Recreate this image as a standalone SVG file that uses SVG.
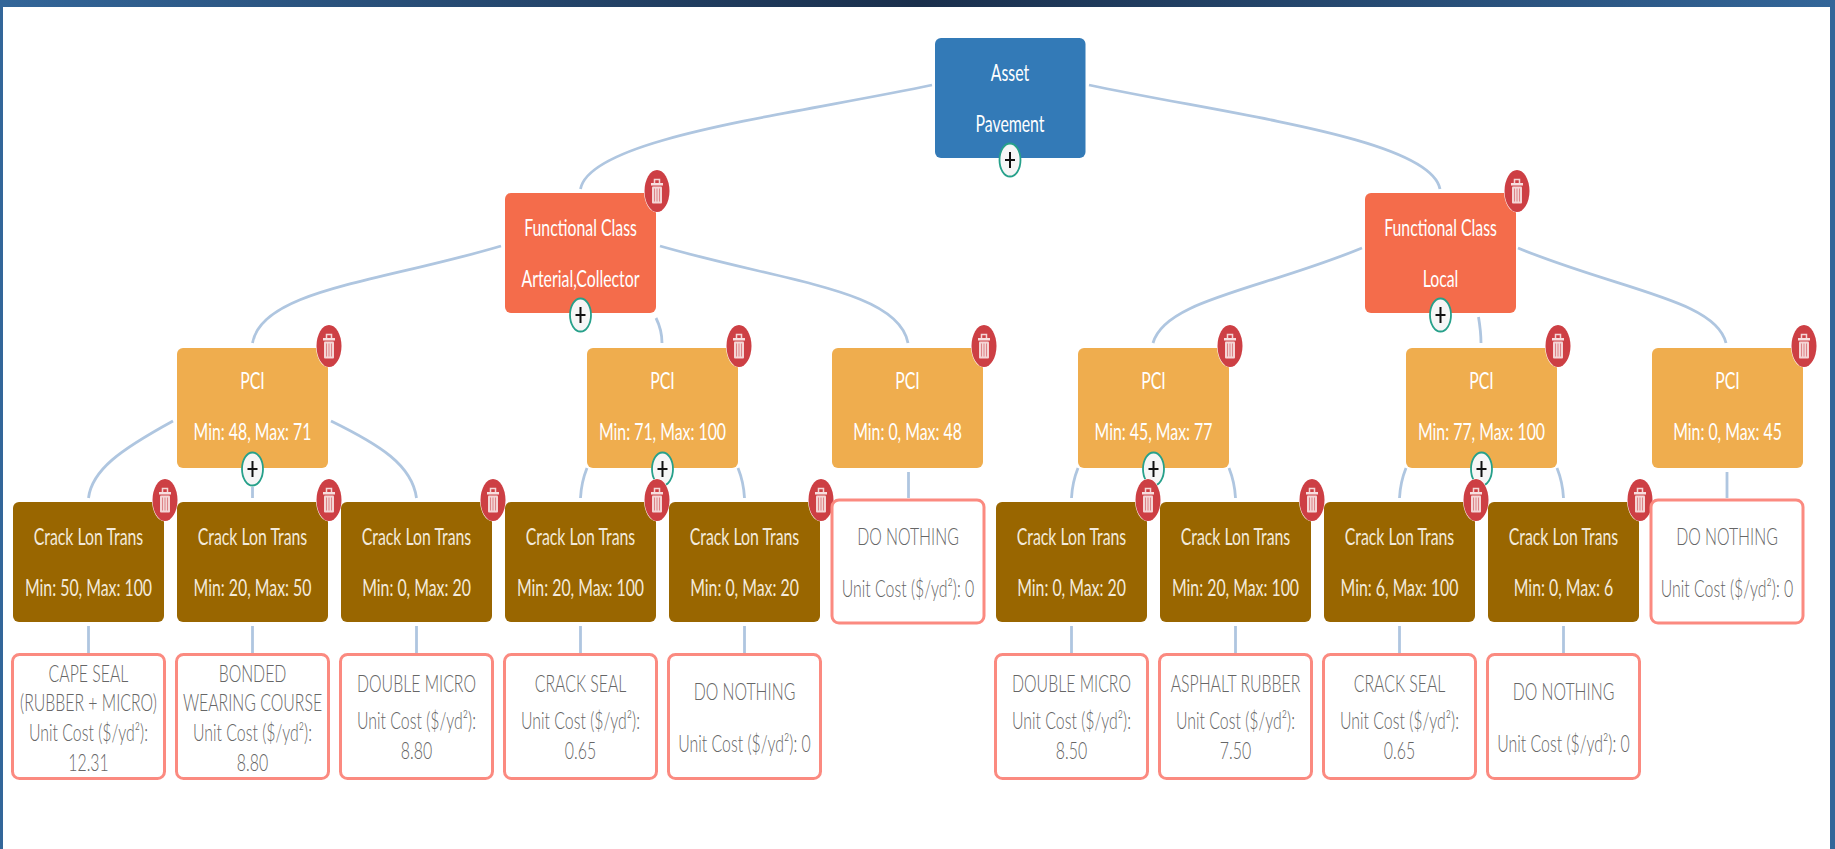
<svg xmlns="http://www.w3.org/2000/svg" width="1835" height="849" viewBox="0 0 1835 849">
<style>
text{font-family:"Lato","Open Sans","Liberation Sans",sans-serif;font-size:24px;font-weight:300;text-anchor:middle}
.w{fill:#fff;font-weight:400}
.c{fill:#f3eadb;font-weight:400}
.g{fill:#666}
.asset{fill:#337ab7}
.fc{fill:#f46c4b}
.pci{fill:#efad4e}
.crack{fill:#996600}
.leaf{fill:#fff;stroke:#fb8a80;stroke-width:3}
#connectors path{fill:none;stroke:#afc6e0;stroke-width:2.8}
</style>
<defs>
<linearGradient id="bar" x1="0" x2="1" y1="0" y2="0">
<stop offset="0" stop-color="#336699"/>
<stop offset="0.5" stop-color="#1a2f4c"/>
<stop offset="1" stop-color="#336699"/>
</linearGradient>
<g id="del">
<ellipse rx="13" ry="21.5" fill="#fff"/>
<ellipse rx="12.5" ry="21" fill="#cd3f44"/>
<path d="M-2.5-8V-11.5H2.5V-8" fill="none" stroke="#f4d6d6" stroke-width="1.5"/>
<rect x="-6" y="-8" width="12" height="2.5" fill="#f7dfdf"/>
<rect x="-5" y="-4.5" width="10" height="17" rx="1" fill="#f4d6d6"/>
<path d="M-2.500-2.500V10.500M0-2.500V10.500M2.500-2.500V10.500" stroke="#dd8488" stroke-width="1"/>
</g>
<g id="plus">
<ellipse rx="10.500" ry="16.500" fill="#f6f6f6" stroke="#26a08a" stroke-width="1.8"/>
<path d="M-5 0H5M0-8V8" stroke="#111" stroke-width="2" fill="none"/>
</g>
</defs>
<rect width="1835" height="849" fill="#fff"/>
<rect id="frame-left" x="0" y="0" width="3" height="849" fill="#336699"/>
<rect id="frame-right" x="1830" y="0" width="5" height="849" fill="#336699"/>
<rect id="frame-top" x="0" y="0" width="1835" height="7" fill="url(#bar)"/>

<g id="connectors">
<path d="M932 85C790 115 590 138 580.500 189"/>
<path d="M1089 85C1230 115 1430 138 1440 189"/>
<path d="M501 246C380 282 262 290 252.500 343"/>
<path d="M656 318C660 326 662 335 662 343"/>
<path d="M660 246C785 282 898 290 908 343"/>
<path d="M1362 248C1260 290 1165 300 1153 343"/>
<path d="M1478.500 317C1480 326 1481 335 1481 343"/>
<path d="M1518 248C1620 290 1716 300 1726 343"/>
<path d="M173 421C120 450 92 470 88.500 498"/>
<path d="M252.500 487V498"/>
<path d="M331 421C380 445 412 465 416.500 498"/>
<path d="M587 468C583 478 581 488 580.500 498"/>
<path d="M738 468C742 478 744 488 744.500 498"/>
<path d="M908.500 472V498"/>
<path d="M1078 468C1074 478 1072 488 1071.500 498"/>
<path d="M1229 468C1233 478 1235 488 1235.500 498"/>
<path d="M1406 468C1402 478 1400 488 1399.500 498"/>
<path d="M1557 468C1561 478 1563 488 1563.500 498"/>
<path d="M1727 472V498"/>
<path d="M88.500 626V653"/>
<path d="M252.500 626V653"/>
<path d="M416.500 626V653"/>
<path d="M580.500 626V653"/>
<path d="M744.500 626V653"/>
<path d="M1071.500 626V653"/>
<path d="M1235.500 626V653"/>
<path d="M1399.500 626V653"/>
<path d="M1563.500 626V653"/>
</g>

<g id="node-asset">
<rect class="asset" x="935" y="38" width="150.500" height="120" rx="6"/>
<text class="w" transform="translate(1010 81) scale(.66 1)">Asset</text>
<text class="w" transform="translate(1010 132) scale(.66 1)">Pavement</text>
<use href="#plus" x="1010" y="160"/>
</g>

<g id="node-fc-arterial">
<rect class="fc" x="505" y="193" width="151" height="120" rx="6"/>
<text class="w" transform="translate(580.500 236) scale(.66 1)">Functional Class</text>
<text class="w" transform="translate(580.500 287) scale(.66 1)">Arterial,Collector</text>
<use href="#plus" x="580.500" y="315"/>
<use href="#del" x="657" y="191"/>
</g>
<g id="node-fc-local">
<rect class="fc" x="1365" y="193" width="151" height="120" rx="6"/>
<text class="w" transform="translate(1440.500 236) scale(.66 1)">Functional Class</text>
<text class="w" transform="translate(1440.500 287) scale(.66 1)">Local</text>
<use href="#plus" x="1440.500" y="315"/>
<use href="#del" x="1517" y="191"/>
</g>

<g id="node-pci-1">
<rect class="pci" x="177" y="348" width="151" height="120" rx="6"/>
<text class="w" transform="translate(252.500 389) scale(.66 1)">PCI</text>
<text class="w" transform="translate(252.500 440) scale(.66 1)">Min: 48, Max: 71</text>
<use href="#plus" x="252.500" y="469"/>
<use href="#del" x="329" y="346"/>
</g>
<g id="node-pci-2">
<rect class="pci" x="587" y="348" width="151" height="120" rx="6"/>
<text class="w" transform="translate(662.500 389) scale(.66 1)">PCI</text>
<text class="w" transform="translate(662.500 440) scale(.66 1)">Min: 71, Max: 100</text>
<use href="#plus" x="662.500" y="469"/>
<use href="#del" x="739" y="346"/>
</g>
<g id="node-pci-3">
<rect class="pci" x="832" y="348" width="151" height="120" rx="6"/>
<text class="w" transform="translate(907.500 389) scale(.66 1)">PCI</text>
<text class="w" transform="translate(907.500 440) scale(.66 1)">Min: 0, Max: 48</text>
<use href="#del" x="984" y="346"/>
</g>
<g id="node-pci-4">
<rect class="pci" x="1078" y="348" width="151" height="120" rx="6"/>
<text class="w" transform="translate(1153.500 389) scale(.66 1)">PCI</text>
<text class="w" transform="translate(1153.500 440) scale(.66 1)">Min: 45, Max: 77</text>
<use href="#plus" x="1153.500" y="469"/>
<use href="#del" x="1230" y="346"/>
</g>
<g id="node-pci-5">
<rect class="pci" x="1406" y="348" width="151" height="120" rx="6"/>
<text class="w" transform="translate(1481.500 389) scale(.66 1)">PCI</text>
<text class="w" transform="translate(1481.500 440) scale(.66 1)">Min: 77, Max: 100</text>
<use href="#plus" x="1481.500" y="469"/>
<use href="#del" x="1558" y="346"/>
</g>
<g id="node-pci-6">
<rect class="pci" x="1652" y="348" width="151" height="120" rx="6"/>
<text class="w" transform="translate(1727.500 389) scale(.66 1)">PCI</text>
<text class="w" transform="translate(1727.500 440) scale(.66 1)">Min: 0, Max: 45</text>
<use href="#del" x="1804" y="346"/>
</g>

<g id="node-crack-1">
<rect class="crack" x="13" y="502" width="151" height="120" rx="6"/>
<text class="c" transform="translate(88.500 545) scale(.66 1)">Crack Lon Trans</text>
<text class="c" transform="translate(88.500 596) scale(.66 1)">Min: 50, Max: 100</text>
<use href="#del" x="165" y="500"/>
</g>
<g id="node-crack-2">
<rect class="crack" x="177" y="502" width="151" height="120" rx="6"/>
<text class="c" transform="translate(252.500 545) scale(.66 1)">Crack Lon Trans</text>
<text class="c" transform="translate(252.500 596) scale(.66 1)">Min: 20, Max: 50</text>
<use href="#del" x="329" y="500"/>
</g>
<g id="node-crack-3">
<rect class="crack" x="341" y="502" width="151" height="120" rx="6"/>
<text class="c" transform="translate(416.500 545) scale(.66 1)">Crack Lon Trans</text>
<text class="c" transform="translate(416.500 596) scale(.66 1)">Min: 0, Max: 20</text>
<use href="#del" x="493" y="500"/>
</g>
<g id="node-crack-4">
<rect class="crack" x="505" y="502" width="151" height="120" rx="6"/>
<text class="c" transform="translate(580.500 545) scale(.66 1)">Crack Lon Trans</text>
<text class="c" transform="translate(580.500 596) scale(.66 1)">Min: 20, Max: 100</text>
<use href="#del" x="657" y="500"/>
</g>
<g id="node-crack-5">
<rect class="crack" x="669" y="502" width="151" height="120" rx="6"/>
<text class="c" transform="translate(744.500 545) scale(.66 1)">Crack Lon Trans</text>
<text class="c" transform="translate(744.500 596) scale(.66 1)">Min: 0, Max: 20</text>
<use href="#del" x="821" y="500"/>
</g>
<g id="node-crack-6">
<rect class="crack" x="996" y="502" width="151" height="120" rx="6"/>
<text class="c" transform="translate(1071.500 545) scale(.66 1)">Crack Lon Trans</text>
<text class="c" transform="translate(1071.500 596) scale(.66 1)">Min: 0, Max: 20</text>
<use href="#del" x="1148" y="500"/>
</g>
<g id="node-crack-7">
<rect class="crack" x="1160" y="502" width="151" height="120" rx="6"/>
<text class="c" transform="translate(1235.500 545) scale(.66 1)">Crack Lon Trans</text>
<text class="c" transform="translate(1235.500 596) scale(.66 1)">Min: 20, Max: 100</text>
<use href="#del" x="1312" y="500"/>
</g>
<g id="node-crack-8">
<rect class="crack" x="1324" y="502" width="151" height="120" rx="6"/>
<text class="c" transform="translate(1399.500 545) scale(.66 1)">Crack Lon Trans</text>
<text class="c" transform="translate(1399.500 596) scale(.66 1)">Min: 6, Max: 100</text>
<use href="#del" x="1476" y="500"/>
</g>
<g id="node-crack-9">
<rect class="crack" x="1488" y="502" width="151" height="120" rx="6"/>
<text class="c" transform="translate(1563.500 545) scale(.66 1)">Crack Lon Trans</text>
<text class="c" transform="translate(1563.500 596) scale(.66 1)">Min: 0, Max: 6</text>
<use href="#del" x="1640" y="500"/>
</g>

<g id="leaf-mid-1">
<rect class="leaf" x="832" y="500" width="152" height="123" rx="7"/>
<text class="g" transform="translate(908 545) scale(.66 1)">DO NOTHING</text>
<text class="g" transform="translate(908 597) scale(.66 1)">Unit Cost ($/yd²): 0</text>
</g>
<g id="leaf-mid-2">
<rect class="leaf" x="1651" y="500" width="152" height="123" rx="7"/>
<text class="g" transform="translate(1727 545) scale(.66 1)">DO NOTHING</text>
<text class="g" transform="translate(1727 597) scale(.66 1)">Unit Cost ($/yd²): 0</text>
</g>

<g id="leaf-1">
<rect class="leaf" x="12.500" y="654.500" width="152" height="124" rx="7"/>
<text class="g" transform="translate(88.500 682) scale(.66 1)">CAPE SEAL</text>
<text class="g" transform="translate(88.500 711) scale(.66 1)">(RUBBER + MICRO)</text>
<text class="g" transform="translate(88.500 741) scale(.66 1)">Unit Cost ($/yd²):</text>
<text class="g" transform="translate(88.500 771) scale(.66 1)">12.31</text>
</g>
<g id="leaf-2">
<rect class="leaf" x="176.500" y="654.500" width="152" height="124" rx="7"/>
<text class="g" transform="translate(252.500 682) scale(.66 1)">BONDED</text>
<text class="g" transform="translate(252.500 711) scale(.66 1)">WEARING COURSE</text>
<text class="g" transform="translate(252.500 741) scale(.66 1)">Unit Cost ($/yd²):</text>
<text class="g" transform="translate(252.500 771) scale(.66 1)">8.80</text>
</g>
<g id="leaf-3">
<rect class="leaf" x="340.500" y="654.500" width="152" height="124" rx="7"/>
<text class="g" transform="translate(416.500 692) scale(.66 1)">DOUBLE MICRO</text>
<text class="g" transform="translate(416.500 729) scale(.66 1)">Unit Cost ($/yd²):</text>
<text class="g" transform="translate(416.500 759) scale(.66 1)">8.80</text>
</g>
<g id="leaf-4">
<rect class="leaf" x="504.500" y="654.500" width="152" height="124" rx="7"/>
<text class="g" transform="translate(580.500 692) scale(.66 1)">CRACK SEAL</text>
<text class="g" transform="translate(580.500 729) scale(.66 1)">Unit Cost ($/yd²):</text>
<text class="g" transform="translate(580.500 759) scale(.66 1)">0.65</text>
</g>
<g id="leaf-5">
<rect class="leaf" x="668.500" y="654.500" width="152" height="124" rx="7"/>
<text class="g" transform="translate(744.500 700) scale(.66 1)">DO NOTHING</text>
<text class="g" transform="translate(744.500 752) scale(.66 1)">Unit Cost ($/yd²): 0</text>
</g>
<g id="leaf-6">
<rect class="leaf" x="995.500" y="654.500" width="152" height="124" rx="7"/>
<text class="g" transform="translate(1071.500 692) scale(.66 1)">DOUBLE MICRO</text>
<text class="g" transform="translate(1071.500 729) scale(.66 1)">Unit Cost ($/yd²):</text>
<text class="g" transform="translate(1071.500 759) scale(.66 1)">8.50</text>
</g>
<g id="leaf-7">
<rect class="leaf" x="1159.500" y="654.500" width="152" height="124" rx="7"/>
<text class="g" transform="translate(1235.500 692) scale(.66 1)">ASPHALT RUBBER</text>
<text class="g" transform="translate(1235.500 729) scale(.66 1)">Unit Cost ($/yd²):</text>
<text class="g" transform="translate(1235.500 759) scale(.66 1)">7.50</text>
</g>
<g id="leaf-8">
<rect class="leaf" x="1323.500" y="654.500" width="152" height="124" rx="7"/>
<text class="g" transform="translate(1399.500 692) scale(.66 1)">CRACK SEAL</text>
<text class="g" transform="translate(1399.500 729) scale(.66 1)">Unit Cost ($/yd²):</text>
<text class="g" transform="translate(1399.500 759) scale(.66 1)">0.65</text>
</g>
<g id="leaf-9">
<rect class="leaf" x="1487.500" y="654.500" width="152" height="124" rx="7"/>
<text class="g" transform="translate(1563.500 700) scale(.66 1)">DO NOTHING</text>
<text class="g" transform="translate(1563.500 752) scale(.66 1)">Unit Cost ($/yd²): 0</text>
</g>
</svg>
